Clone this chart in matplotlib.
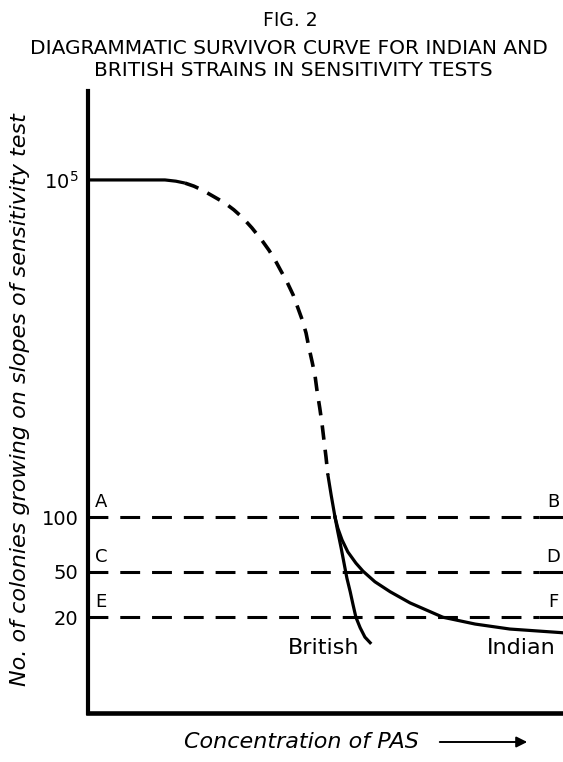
import matplotlib
matplotlib.use("Agg")
import matplotlib.pyplot as plt

# ---- data (diagram units: x = relative PAS concentration 0-100, y = relative level 0-100) ----
plateau_x = [0.0, 16.2, 18.5, 20.4]
plateau_y = [85.7, 85.7, 85.5, 85.2]

decline_x = [20.4, 22.3, 24.0, 26.3, 28.8, 30.7, 32.6, 34.5, 36.6, 38.1, 39.4, 40.6,
             41.9, 43.2, 44.2, 45.1, 45.9, 46.5, 47.2, 47.8, 48.2, 48.8, 49.3, 49.7,
             50.1, 50.5]
decline_y = [85.2, 84.7, 84.1, 83.1, 82.0, 80.9, 79.6, 78.0, 76.0, 74.4, 72.8, 71.1,
             69.3, 67.2, 65.1, 63.2, 61.1, 58.8, 56.4, 54.2, 51.9, 49.0, 46.3, 43.7,
             41.2, 38.3]

stem_x = [50.5, 51.2, 52.0]
stem_y = [38.3, 35.0, 31.5]

british_x = [52.0, 52.6, 53.3, 53.9, 54.5, 55.2, 55.8, 56.4, 57.3, 58.3, 59.4]
british_y = [31.5, 29.1, 26.5, 24.1, 21.7, 19.5, 17.4, 15.4, 13.7, 12.2, 11.3]

indian_x = [52.0, 52.6, 53.5, 54.7, 56.4, 57.9, 60.4, 63.6, 67.8, 74.7, 81.5, 88.8, 100.0]
indian_y = [31.5, 29.7, 27.8, 25.9, 24.1, 22.8, 21.1, 19.5, 17.7, 15.4, 14.3, 13.5, 12.9]

ref_levels = [31.5, 22.7, 15.4]
ref_left_letters = ["A", "C", "E"]
ref_right_letters = ["B", "D", "F"]

tick_positions = [85.7, 31.5, 22.7, 15.4]
tick_labels = [r"$10^5$", "100", "50", "20"]

title_lines = ["FIG. 2",
               "DIAGRAMMATIC SURVIVOR CURVE FOR INDIAN AND",
               "BRITISH STRAINS IN SENSITIVITY TESTS"]
ylabel_text = "No. of colonies growing on slopes of sensitivity test"
xlabel_text = "Concentration of PAS"

# ---- figure ----
plt.rcParams['font.family'] = ['DejaVu Sans']
W, H = 563, 762
fig = plt.figure(figsize=(W / 100, H / 100), dpi=100)
ax = fig.add_axes([88 / W, 1 - 713 / H, (W - 88) / W, (713 - 91) / H])
ax.set_xlim(0, 100)
ax.set_ylim(0, 100)

for s in ["top", "right"]:
    ax.spines[s].set_visible(False)
ax.spines["left"].set_linewidth(3.0)
ax.spines["bottom"].set_linewidth(3.3)
ax.spines["left"].set_capstyle("projecting")

ax.set_xticks([])
ax.set_yticks(tick_positions)
ax.set_yticklabels(tick_labels, fontsize=14)
ax.tick_params(axis="y", length=0, pad=7)

lw = 2.3
ax.plot(plateau_x, plateau_y, color="black", lw=lw, solid_capstyle="butt",
        solid_joinstyle="round")
ax.plot(decline_x, decline_y, color="black", lw=2.6, linestyle=(0, (4.0, 2.8)),
        dash_joinstyle="round")
ax.plot(stem_x, stem_y, color="black", lw=lw, solid_joinstyle="round")
ax.plot(british_x, british_y, color="black", lw=lw, solid_joinstyle="round")
ax.plot(indian_x, indian_y, color="black", lw=lw, solid_joinstyle="round")

for lvl, la, ra in zip(ref_levels, ref_left_letters, ref_right_letters):
    ax.plot([0, 95.0], [lvl, lvl], color="black", lw=2.2, linestyle=(0, (6.5, 3.9)))
    ax.plot([95.0, 100], [lvl, lvl], color="black", lw=2.2, solid_capstyle="butt")
    ax.text(1.5, lvl + 1.0, la, fontsize=13, ha="left", va="bottom")
    ax.text(97.9, lvl + 1.0, ra, fontsize=13, ha="center", va="bottom")

ax.text(49.5, 10.4, "British", fontsize=16, ha="center", va="center")
ax.text(91.3, 10.4, "Indian", fontsize=16, ha="center", va="center")

# titles
fig.text(290 / W, 1 - 20 / H, title_lines[0], fontsize=13.5, ha="center", va="center")
fig.text(289 / W, 1 - 48 / H, title_lines[1], fontsize=14.5, ha="center", va="center")
fig.text(293 / W, 1 - 70 / H, title_lines[2], fontsize=14.5, ha="center", va="center")

fig.text(20 / W, 1 - 400 / H, ylabel_text, fontsize=16, style="italic",
         rotation=90, ha="center", va="center")
fig.text(301 / W, 1 - 742 / H, xlabel_text, fontsize=16, style="italic",
         ha="center", va="center")
ax.annotate("", xy=(530 / W, 1 - 742 / H), xytext=(437 / W, 1 - 742 / H),
            xycoords="figure fraction", textcoords="figure fraction",
            arrowprops=dict(arrowstyle="-|>", lw=1.4, color="black", mutation_scale=16))

fig.savefig("out.png", dpi=100)
